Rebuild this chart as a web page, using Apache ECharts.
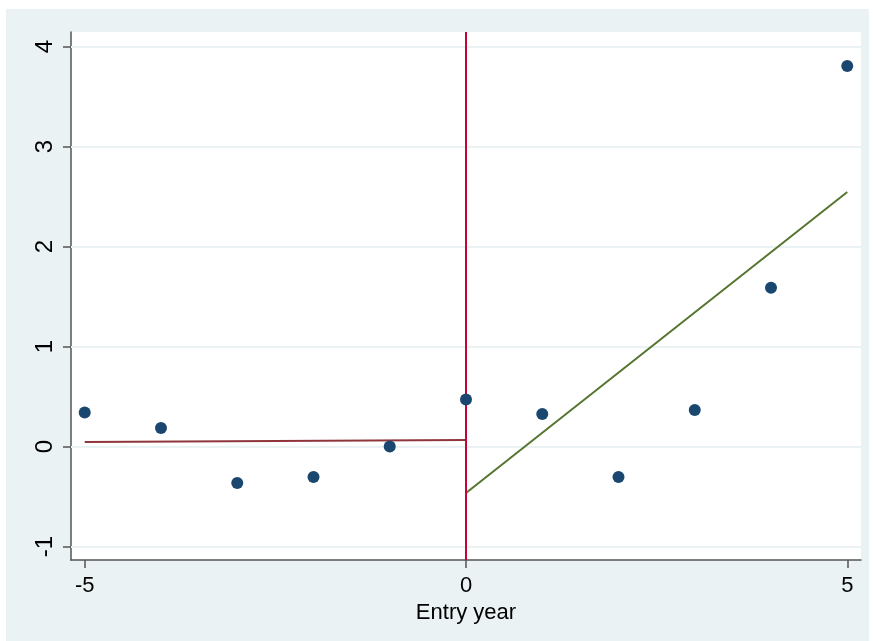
<!DOCTYPE html>
<html>
<head>
<meta charset="utf-8">
<script src="https://cdn.jsdelivr.net/npm/echarts@6/dist/echarts.min.js"></script>
<style>
html,body{margin:0;padding:0;background:#ffffff;}
#chart{width:873px;height:641px;}
</style>
</head>
<body>
<div id="chart"></div>
<script>
// Data
var entryYears = [-5, -4, -3, -2, -1, 0, 1, 2, 3, 4, 5];
var estimates  = [0.34, 0.185, -0.365, -0.305, 0.0, 0.47, 0.325, -0.305, 0.365, 1.588, 3.805];
var preFit  = [[-5, 0.045], [0, 0.065]];
var postFit = [[0, -0.465], [5, 2.545]];
var xTicks = [-5, 0, 5];
var yTicks = [-1, 0, 1, 2, 3, 4];
var xTitle = 'Entry year';

var font = 'Liberation Sans, Arial, sans-serif';
var chart = echarts.init(document.getElementById('chart'), null, {renderer: 'canvas'});

var scatterData = entryYears.map(function (x, i) { return [x, estimates[i]]; });

chart.setOption({
  animation: false,
  backgroundColor: '#ffffff',
  graphic: [{
    type: 'rect', z: -10, silent: true,
    shape: {x: 6, y: 9, width: 863, height: 632},
    style: {fill: '#eaf2f3'}
  }],
  grid: {
    left: 71, right: 12, top: 32, bottom: 81,
    show: true, backgroundColor: '#ffffff', borderWidth: 0
  },
  xAxis: {
    type: 'value', min: -5.18, max: 5.18,
    name: xTitle, nameLocation: 'middle', nameGap: 37,
    nameTextStyle: {fontFamily: font, fontSize: 22, color: '#000'},
    axisLine: {show: true, onZero: false, lineStyle: {color: '#555', width: 1.5}},
    axisTick: {show: true, customValues: xTicks, length: 8, lineStyle: {color: '#555', width: 1.5}},
    axisLabel: {customValues: xTicks, margin: 15, fontFamily: font, fontSize: 22, color: '#000'},
    splitLine: {show: false}
  },
  yAxis: {
    type: 'value', min: -1.135, max: 4.145,
    axisLine: {show: true, onZero: false, lineStyle: {color: '#555', width: 1.5}},
    axisTick: {show: true, customValues: yTicks, length: 8, lineStyle: {color: '#555', width: 1.5}},
    axisLabel: {customValues: yTicks, rotate: 90, margin: 14, fontFamily: font, fontSize: 24, color: '#000'},
    splitLine: {show: false}
  },
  series: [
    {
      type: 'line', name: 'grid', data: [], silent: true, z: 1,
      markLine: {
        silent: true, symbol: 'none', label: {show: false}, z: 1,
        lineStyle: {color: '#eaf2f3', width: 2, type: 'solid'},
        data: yTicks.map(function (v) { return {yAxis: v}; })
      }
    },
    {
      type: 'line', name: 'pre', data: preFit, showSymbol: false, symbol: 'none',
      lineStyle: {color: '#90353b', width: 2}, z: 3
    },
    {
      type: 'line', name: 'post', data: postFit, showSymbol: false, symbol: 'none',
      lineStyle: {color: '#55752f', width: 2}, z: 3
    },
    {
      type: 'line', name: 'entry', data: [], silent: true, z: 4,
      markLine: {
        silent: true, symbol: 'none', label: {show: false}, z: 4,
        lineStyle: {color: '#c10534', width: 2, type: 'solid'},
        data: [{xAxis: 0}]
      }
    },
    {
      type: 'scatter', name: 'est', data: scatterData, symbolSize: 12,
      itemStyle: {color: '#1a476f', opacity: 1}, z: 5
    }
  ]
});
</script>
</body>
</html>
